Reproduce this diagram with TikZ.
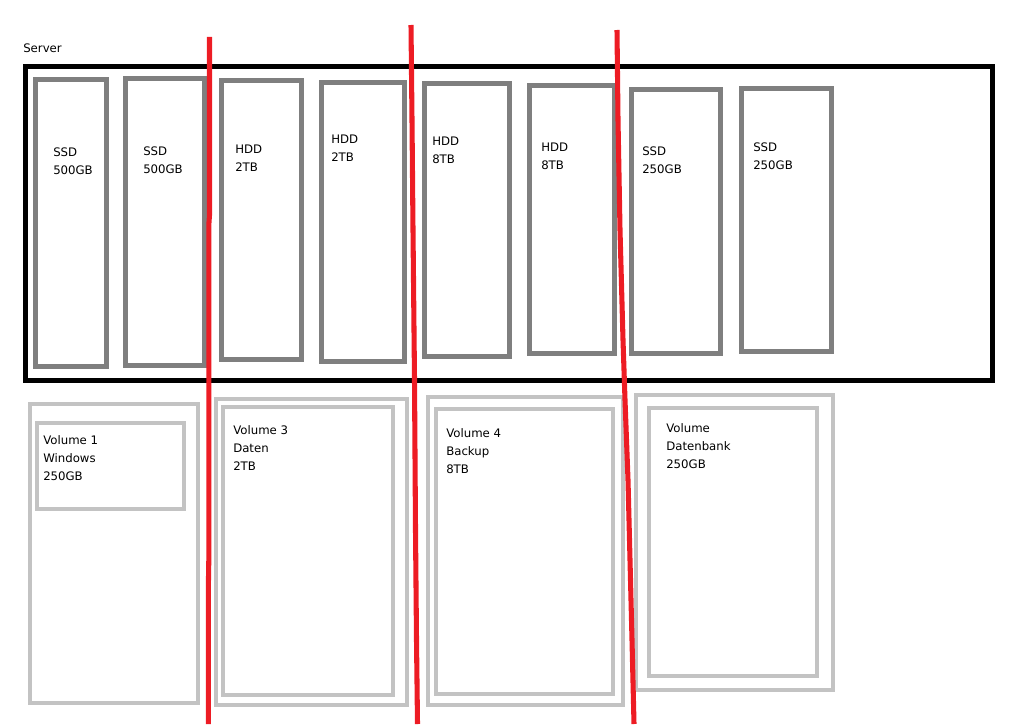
\documentclass[tikz,border=0pt]{standalone}
\usepackage{fontspec}
\setmainfont{DejaVu Sans}
\usetikzlibrary{fit}
\definecolor{drivegray}{HTML}{7F7F7F}
\definecolor{volgray}{HTML}{C3C3C3}
\definecolor{splitred}{HTML}{ED1C24}
\begin{document}
\begin{tikzpicture}[x=0.75pt,y=-0.75pt,
  frame/.style={draw=black,line width=3.5pt,inner sep=0pt},
  drive/.style={draw=drivegray,line width=3.4pt,inner sep=0pt},
  vol/.style={draw=volgray,line width=3.3pt,inner sep=0pt},
  lbl/.style={anchor=north west,inner sep=0pt,align=left,font=\fontsize{8.8pt}{13.3pt}\selectfont},
  split/.style={draw=splitred,line width=3.8pt,line join=round}]
\useasboundingbox (0,0) rectangle (1023,724);
% server
\node[lbl] (srvlbl) at (23,43.5) {Server};
\node[frame,fit={(25.5,66.5) (992.5,380.5)}] (server) {};
% drives
\node[drive,fit={(35.5,79.5) (106.5,366.5)}] (d1) {};
\node[drive,fit={(125.5,78.5) (204.5,365.5)}] (d2) {};
\node[drive,fit={(221.5,80.5) (301.5,359.5)}] (d3) {};
\node[drive,fit={(321.5,82.5) (404.5,361.5)}] (d4) {};
\node[drive,fit={(424.5,83.5) (509.5,356.5)}] (d5) {};
\node[drive,fit={(529.5,85.5) (614.5,353.5)}] (d6) {};
\node[drive,fit={(631.5,89.5) (720.5,353.5)}] (d7) {};
\node[drive,fit={(741.5,88.5) (831.5,351.5)}] (d8) {};
\node[lbl] (t1) at (53,147.5) {SSD\\500GB};
\node[lbl] (t2) at (143,146.5) {SSD\\500GB};
\node[lbl] (t3) at (235,145) {HDD\\2TB};
\node[lbl] (t4) at (331,135) {HDD\\2TB};
\node[lbl] (t5) at (432,137) {HDD\\8TB};
\node[lbl] (t6) at (541,143) {HDD\\8TB};
\node[lbl] (t7) at (642,147) {SSD\\250GB};
\node[lbl] (t8) at (753,143) {SSD\\250GB};
% volumes
\node[vol,fit={(30.2,404.2) (197.8,702.8)}] (v1o) {};
\node[vol,fit={(37.2,423.2) (183.8,508.8)}] (v1i) {};
\node[lbl] (v1t) at (43,435.5) {Volume 1\\Windows\\250GB};
\node[vol,fit={(216.2,399.2) (406.8,704.8)}] (v3o) {};
\node[vol,fit={(223.2,407.2) (392.8,694.8)}] (v3i) {};
\node[lbl] (v3t) at (233,425.5) {Volume 3\\Daten\\2TB};
\node[vol,fit={(428.2,397.2) (622.8,704.8)}] (v4o) {};
\node[vol,fit={(436.2,409.2) (612.8,693.8)}] (v4i) {};
\node[lbl] (v4t) at (446,428.5) {Volume 4\\Backup\\8TB};
\node[vol,fit={(636.2,395.2) (832.8,689.8)}] (vdo) {};
\node[vol,fit={(649.2,408.2) (816.8,675.8)}] (vdi) {};
\node[lbl] (vdt) at (666,423.5) {Volume\\Datenbank\\250GB};
% red split lines
\draw[split] (209.5,37) -- (209.5,215) -- (208.8,225) -- (208.8,560) -- (208.3,590) -- (208.3,724);
\draw[split] (411,25) -- (412,120) -- (413,230) -- (414.5,380) -- (415.5,530) -- (416.5,640) -- (417.5,724);
\draw[split] (617,30) -- (618,120) -- (620,230) -- (623,340) -- (625,400) -- (628,480) -- (630,560) -- (632,640) -- (634,724);
\end{tikzpicture}
\end{document}
